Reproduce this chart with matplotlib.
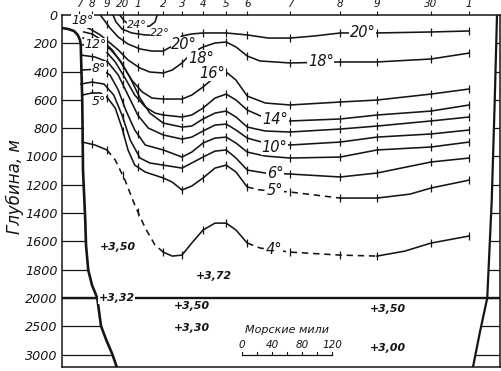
import numpy as np
import matplotlib
matplotlib.use("Agg")
import matplotlib.pyplot as plt

plt.rcParams['font.family'] = ['DejaVu Sans']

# ---------------- data ----------------
station_labels = ['7', '8', '9', '20', '1', '2', '3', '4', '5', '6', '7', '8', '9', '30', '1']
station_miles = [23, 40, 60, 81, 101, 135, 160, 188, 219, 247, 304, 371, 420, 492, 543]

depth_ticks = [0, 200, 400, 600, 800, 1000, 1200, 1400, 1600, 1800, 2000, 2500, 3000]

iso24_x = [77, 83, 91, 104, 117, 124, 127]
iso24_d = [0, 42, 71, 85, 78, 49, 0]
iso22_x = [68, 72, 80, 93, 111, 117]
iso22_d = [0, 49, 99, 127, 141, 141]
iso20_x = [51, 56, 64, 75, 88, 104, 120, 135, 147, 160, 173, 188, 219, 247, 275, 304, 337, 371, 420, 492, 543]
iso20_d = [0, 35, 92, 156, 205, 240, 255, 255, 219, 148, 134, 127, 127, 141, 163, 163, 148, 127, 127, 120, 113]
iso18_x = [32, 40, 51, 61, 75, 88, 104, 117, 135, 147, 160, 173, 188, 204, 219, 232, 247, 264, 304, 371, 420, 492, 543]
iso18_d = [85, 106, 141, 184, 247, 318, 375, 403, 410, 389, 339, 269, 226, 198, 191, 226, 290, 325, 339, 332, 332, 311, 269]
iso16_x = [29, 40, 53, 67, 80, 93, 107, 120, 135, 160, 173, 188, 204, 219, 232, 247, 271, 304, 371, 420, 492, 543]
iso16_d = [120, 134, 177, 247, 346, 460, 544, 587, 594, 594, 566, 509, 438, 403, 460, 573, 622, 636, 615, 601, 559, 523]
iso14_x = [28, 44, 57, 71, 84, 97, 111, 124, 135, 160, 173, 188, 204, 219, 232, 247, 271, 304, 371, 420, 492, 543]
iso14_d = [163, 191, 247, 332, 445, 566, 650, 693, 707, 721, 707, 658, 587, 559, 601, 672, 728, 749, 735, 707, 679, 636]
iso12_x = [25, 51, 64, 77, 91, 104, 117, 135, 160, 173, 188, 204, 219, 232, 247, 271, 304, 371, 420, 492, 543]
iso12_d = [212, 205, 240, 318, 445, 587, 693, 764, 792, 785, 735, 693, 679, 721, 792, 820, 827, 806, 785, 749, 721]
iso10_x = [25, 44, 61, 75, 88, 101, 115, 135, 160, 173, 188, 204, 219, 232, 247, 271, 304, 371, 420, 492, 543]
iso10_d = [283, 297, 332, 424, 566, 707, 799, 848, 877, 863, 820, 778, 771, 813, 870, 905, 919, 898, 863, 841, 813]
iso8_x = [25, 51, 64, 75, 85, 97, 111, 135, 160, 173, 188, 204, 219, 232, 247, 271, 304, 371, 420, 492, 543]
iso8_d = [389, 382, 424, 530, 672, 813, 919, 954, 1004, 969, 905, 870, 863, 905, 969, 997, 1011, 1004, 954, 933, 898]
iso6_x = [25, 40, 56, 69, 80, 91, 104, 117, 135, 160, 173, 188, 204, 219, 232, 247, 271, 304, 371, 420, 492, 543]
iso6_d = [488, 474, 488, 566, 707, 884, 1011, 1046, 1061, 1082, 1046, 1004, 962, 954, 1011, 1096, 1117, 1124, 1145, 1117, 1039, 1011]
iso5_x = [27, 40, 51, 61, 71, 80, 88, 97, 111, 135, 147, 160, 173, 188, 204, 219, 232, 247, 264, 304, 371, 420, 464, 492, 543]
iso5_d = [566, 551, 551, 587, 658, 799, 954, 1061, 1110, 1152, 1181, 1237, 1209, 1152, 1082, 1061, 1110, 1216, 1237, 1251, 1294, 1294, 1266, 1223, 1167]
iso4_x = [27, 44, 60, 71, 84, 97, 111, 124, 135, 147, 160, 173, 188, 204, 219, 232, 247, 264, 304, 371, 420, 457, 492, 543]
iso4_d = [898, 919, 954, 1025, 1167, 1343, 1506, 1626, 1676, 1704, 1697, 1612, 1520, 1471, 1471, 1520, 1612, 1647, 1676, 1697, 1704, 1669, 1612, 1562]

# sea-floor / coast profiles
slope_left_x = [0, 8, 16, 21, 24, 25, 27, 28, 31, 32, 35, 40, 47, 52, 59, 67, 73]
slope_left_d = [92, 99, 113, 141, 177, 212, 601, 1096, 1449, 1626, 1803, 1909, 2000, 2495, 2742, 2990, 3220]
slope_right_x = [580, 577, 573, 567, 557, 548]
slope_right_d = [0, 601, 1308, 2000, 2618, 3220]

# isotherm labels
iso_label_text = ['24°', '22°', '20°', '20°', '18°', '18°', '18°', '16°', '14°', '12°', '10°', '8°', '6°', '5°', '5°', '4°']
iso_label_x = [100, 131, 163, 401, 27, 185, 345, 200, 284, 45, 283, 49, 284, 49, 284, 283]
iso_label_d = [68, 130, 212, 127, 42, 304, 332, 410, 742, 212, 933, 375, 1117, 608, 1237, 1654]

# bottom temperatures
temp_text = ['+3,50', '+3,72', '+3,32', '+3,50', '+3,30', '+3,50', '+3,00']
temp_x = [75, 203, 73, 173, 173, 435, 435]
temp_d = [1640, 1845, 2000, 2141, 2530, 2194, 2883]

scale_miles = [0, 40, 80, 120]
scale_title = 'Морские мили'

# ---------------- figure ----------------
fig = plt.figure(figsize=(5.01, 3.71), dpi=100)
ax = fig.add_axes([62 / 501, 4 / 371, 438 / 501, 352 / 371])


def fwd(d):
    d = np.asarray(d, dtype=float)
    return np.where(d <= 2000, d, 2000 + (d - 2000) * 0.4)


def inv(t):
    t = np.asarray(t, dtype=float)
    return np.where(t <= 2000, t, 2000 + (t - 2000) / 0.4)


ax.set_yscale('function', functions=(fwd, inv))
ax.set_xlim(0, 584)
ax.set_ylim(3220, 0)

ink = '#151515'
for sp in ax.spines.values():
    sp.set_color(ink)
    sp.set_linewidth(1.1)

# top station axis
ax.xaxis.set_ticks_position('top')
ax.set_xticks(station_miles)
ax.set_xticklabels(station_labels, fontsize=7.5, style='italic', color=ink)
ax.tick_params(axis='x', direction='out', length=3, width=0.8, pad=1.0, colors=ink)

# depth axis
ax.set_yticks(depth_ticks)
ax.set_yticklabels([str(v) for v in depth_ticks], fontsize=9.2, style='italic', color=ink)
ax.tick_params(axis='y', length=0, pad=3)
ax.yaxis.set_minor_locator(matplotlib.ticker.NullLocator())

fig.text(15 / 501, 1 - 187 / 371, 'Глубина, м', rotation=90, ha='center', va='center',
         fontsize=12, style='italic', color=ink)

# coast profiles and ladders
ax.plot(slope_left_x, slope_left_d, color=ink, lw=1.9, solid_capstyle='round', zorder=3)
ax.plot(slope_right_x, slope_right_d, color=ink, lw=1.6, zorder=3)
rung_depths = depth_ticks[1:]
for d in rung_depths:
    xl = np.interp(d, slope_left_d, slope_left_x)
    ax.plot([0, xl], [d, d], color=ink, lw=0.9, zorder=2)
    xr = np.interp(d, slope_right_d, slope_right_x)
    ax.plot([xr, 584], [d, d], color=ink, lw=0.9, zorder=2)

# 2000 m line
ax.plot([0, 584], [2000, 2000], color=ink, lw=1.7, zorder=2)

# isotherms
isotherms = [
    (iso24_x, iso24_d, []),
    (iso22_x, iso22_d, []),
    (iso20_x, iso20_d, []),
    (iso18_x, iso18_d, []),
    (iso16_x, iso16_d, []),
    (iso14_x, iso14_d, []),
    (iso12_x, iso12_d, []),
    (iso10_x, iso10_d, []),
    (iso8_x, iso8_d, []),
    (iso6_x, iso6_d, []),
    (iso5_x, iso5_d, [(247, 371)]),
    (iso4_x, iso4_d, [(60, 140), (247, 420)]),
]


def is_dashed(xm, ranges):
    return any(a <= xm <= b for a, b in ranges)


for xs, ds, dranges in isotherms:
    xs = list(xs)
    ds = list(ds)
    seg_x, seg_d = [xs[0]], [ds[0]]
    cur = is_dashed((xs[0] + xs[1]) / 2, dranges)
    for i in range(1, len(xs)):
        st = is_dashed((xs[i - 1] + xs[i]) / 2, dranges)
        if st != cur:
            ax.plot(seg_x, seg_d, color=ink, lw=1.15, ls=(0, (4, 3)) if cur else '-', zorder=4)
            seg_x, seg_d = [xs[i - 1]], [ds[i - 1]]
            cur = st
        seg_x.append(xs[i])
        seg_d.append(ds[i])
    ax.plot(seg_x, seg_d, color=ink, lw=1.15, ls=(0, (4, 3)) if cur else '-', zorder=4)
    tx = [s for s in station_miles if xs[0] <= s <= xs[-1]]
    ty = np.interp(tx, xs, ds)
    ax.plot(tx, ty, ls='none', marker='|', ms=5.5, mew=0.9, color=ink, zorder=4)

for t, x, d in zip(iso_label_text, iso_label_x, iso_label_d):
    if t in ('24°', '22°'):
        fs = 8
    elif x < 60:
        fs = 9
    else:
        fs = 10.5
    ax.text(x, d, t, fontsize=fs, style='italic', ha='center', va='center', color=ink, zorder=6,
            bbox=dict(facecolor='white', edgecolor='none', pad=0.4))

for t, x, d in zip(temp_text, temp_x, temp_d):
    ax.text(x, d, t, fontsize=7.8, style='italic', fontweight='bold', ha='center', va='center',
            color=ink, zorder=6, bbox=dict(facecolor='white', edgecolor='none', pad=0.5))

# scale bar
sb_x0 = 240
sb_d = 3010
ax.plot([sb_x0, sb_x0 + 120], [sb_d, sb_d], color=ink, lw=0.9, zorder=5)
for m in range(0, 121, 20):
    ax.plot([sb_x0 + m, sb_x0 + m], [sb_d, sb_d - 55], color=ink, lw=0.8, zorder=5)
for m in scale_miles:
    ax.text(sb_x0 + m, 2840, str(m), fontsize=7.5, style='italic', ha='center', va='center', color=ink)
ax.text(sb_x0 + 60, 2570, scale_title, fontsize=8, style='italic', ha='center', va='center', color=ink)

fig.savefig('out.png', dpi=100)
